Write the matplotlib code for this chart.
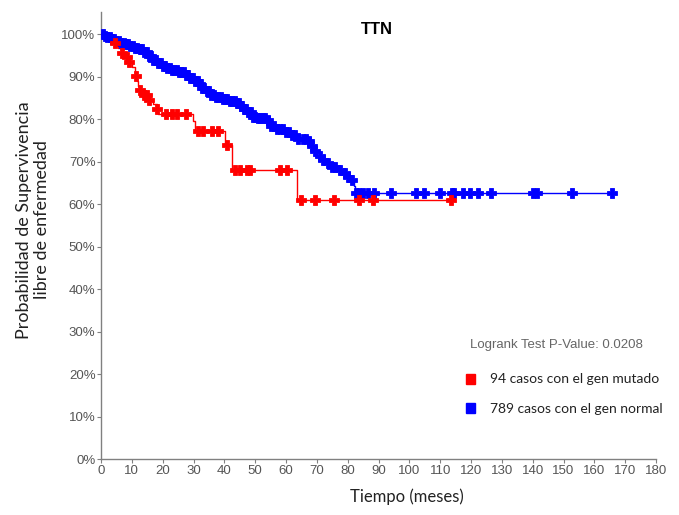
import numpy as np
import matplotlib
matplotlib.use("Agg")
import matplotlib.pyplot as plt
from matplotlib.patches import Rectangle

# Kaplan-Meier step values (time in months, survival in %)
mut_times = [0, 3, 4.5, 5.5, 6.5, 7.5, 8.5, 10, 11, 11.6, 12, 12.6, 13.5, 15,
             17, 18, 18.6, 29.8, 30.5, 40.2, 42.4, 63.7]
mut_surv = [100, 98.9, 97.8, 96.7, 95.6, 94.5, 93.4, 92.3, 90.1, 89.0, 87.9,
            86.8, 85.7, 84.6, 83.5, 82.4, 81.3, 79.5, 77.3, 73.8, 67.9, 61.0]
mut_end = 113.4
mut_censor = [4.5, 6.7, 8.3, 9, 11.2, 12.8, 13.8, 14.8, 15.6, 18.2, 21, 23,
              24.5, 27.5, 31.5, 33, 35.9, 38, 41, 43.5, 45, 47.5, 48.3, 58,
              60.2, 65, 69.4, 75.5, 83.8, 88.3, 113.4]

norm_times = [0, 1, 2, 3, 4.5, 6, 7.5, 9, 10.5, 12, 13.5, 15, 16.5, 18, 19.5,
              21, 23, 25, 27, 29, 30.5, 31.5, 32.7, 34, 35.5, 37, 39, 41.5,
              44, 45, 46, 47.5, 49, 50.5, 53.5, 54.8, 57, 60, 62, 64, 67, 68,
              69.2, 70, 71.5, 72.5, 74.5, 76.5, 78.5, 79.8, 81, 82, 82.5]
norm_surv = [100, 99.6, 99.2, 98.8, 98.4, 98.0, 97.6, 97.2, 96.8, 96.4, 95.8,
             94.8, 93.8, 93.2, 92.6, 92.1, 91.6, 91.0, 90.4, 89.6, 89.0, 88.2,
             87.4, 86.6, 85.6, 85.1, 84.7, 84.3, 83.9, 83.1, 82.4, 81.6, 80.6,
             80.3, 79.7, 78.4, 77.6, 76.9, 76.2, 75.4, 74.9, 73.6, 72.4, 71.2,
             70.4, 69.6, 68.8, 68.0, 67.2, 66.4, 65.6, 64.2, 62.5]
norm_end = 165.6
norm_censor = [0.5, 1.2, 2, 2.8, 3.5, 4.2, 5, 5.8, 6.5, 7.3, 8, 8.8, 9.5, 10.3,
               11, 11.8, 12.5, 13.3, 14, 14.8, 15.5, 16.3, 17, 17.8, 18.5,
               19.3, 20, 20.8, 21.5, 22.3, 23, 23.8, 24.5, 25.3, 26, 26.8,
               27.5, 28.3, 29, 29.8, 30.5, 31.3, 32, 32.8, 33.5, 34.3, 35,
               35.8, 36.5, 37.3, 38, 38.8, 39.5, 40.3, 41, 41.8, 42.5, 43.3,
               44, 44.8, 45.5, 46.3, 47, 47.8, 48.5, 49.3, 50, 50.8, 51.5,
               52.5, 53.3, 54, 55, 56, 57, 58, 59, 60, 61, 62, 63, 64, 65.5,
               66.5, 67.5, 68.5, 69.5, 71, 72, 73.5, 75, 76, 77.5, 79, 80,
               81.5, 82.7, 83.8, 84.9, 86.7, 88.6, 94, 102.2, 104.6, 109.8,
               113.8, 114.5, 117.3, 119.7, 122.4, 126.4, 140.2, 141.5, 152.9,
               165.6]

x_ticks = list(range(0, 181, 10))
y_ticks = list(range(0, 101, 10))

title = "TTN"
pvalue_text = "Logrank Test P-Value: 0.0208"
label_mut = "94 casos con el gen mutado"
label_norm = "789 casos con el gen normal"

RED = "#ff0000"
BLUE = "#0000ff"

W, H = 679, 515
fig = plt.figure(figsize=(W / 100, H / 100), dpi=100)
ax = fig.add_axes([101 / W, 1 - 459 / H, 555 / W, 447 / H])


def step_value(times, surv, t):
    idx = np.searchsorted(times, t, side="right") - 1
    return np.asarray(surv)[idx]


def draw_curve(times, surv, end, censor, color):
    xs = list(times) + [end]
    ys = list(surv) + [surv[-1]]
    ax.plot(xs, ys, drawstyle="steps-post", color=color, lw=1.0, zorder=2)
    cy = step_value(np.asarray(times), surv, np.asarray(censor))
    ax.plot(censor, cy, linestyle="none", marker="P", ms=7, color=color,
            mec=color, mew=0.6, zorder=3)


draw_curve(norm_times, norm_surv, norm_end, norm_censor, BLUE)
draw_curve(mut_times, mut_surv, mut_end, mut_censor, RED)

ax.set_xlim(0, 180)
ax.set_ylim(0, 105.2)
ax.set_xticks(x_ticks)
ax.set_yticks(y_ticks)
ax.set_yticklabels([f"{v}%" for v in y_ticks])
for s in ("top", "right"):
    ax.spines[s].set_visible(False)
for s in ("left", "bottom"):
    ax.spines[s].set_color("#808080")
    ax.spines[s].set_linewidth(1.0)
ax.tick_params(axis="both", direction="out", length=3, width=0.8,
               color="#808080", labelcolor="#555555", labelsize=9.5, pad=1)
for lab in ax.get_xticklabels() + ax.get_yticklabels():
    lab.set_fontfamily("Liberation Sans")

fig.text(377 / W, 1 - 30 / H, title, ha="center", va="center",
         fontsize=12, fontweight="bold", family="Liberation Sans")

fig.text(33 / W, 1 - 220 / H, "Probabilidad de Supervivencia\nlibre de enfermedad",
         rotation=90, ha="center", va="center", fontsize=13, family="Lato",
         color="#222222", linespacing=1.2)
fig.text(407 / W, 1 - 497 / H, "Tiempo (meses)", ha="center", va="center",
         fontsize=12, family="Lato", color="#222222")

fig.text(470 / W, 1 - 345 / H, pvalue_text, ha="left", va="center",
         fontsize=9.5, family="Liberation Sans", color="#666666")
fig.add_artist(Rectangle((466 / W, 1 - 384 / H), 9 / W, 10 / H,
                         transform=fig.transFigure, color=RED))
fig.add_artist(Rectangle((466 / W, 1 - 413 / H), 9 / W, 10 / H,
                         transform=fig.transFigure, color=BLUE))
fig.text(490 / W, 1 - 379 / H, label_mut, ha="left", va="center",
         fontsize=10, family="Lato", color="#222222")
fig.text(490 / W, 1 - 409 / H, label_norm, ha="left", va="center",
         fontsize=10, family="Lato", color="#222222")

fig.savefig("out.png", dpi=100)
